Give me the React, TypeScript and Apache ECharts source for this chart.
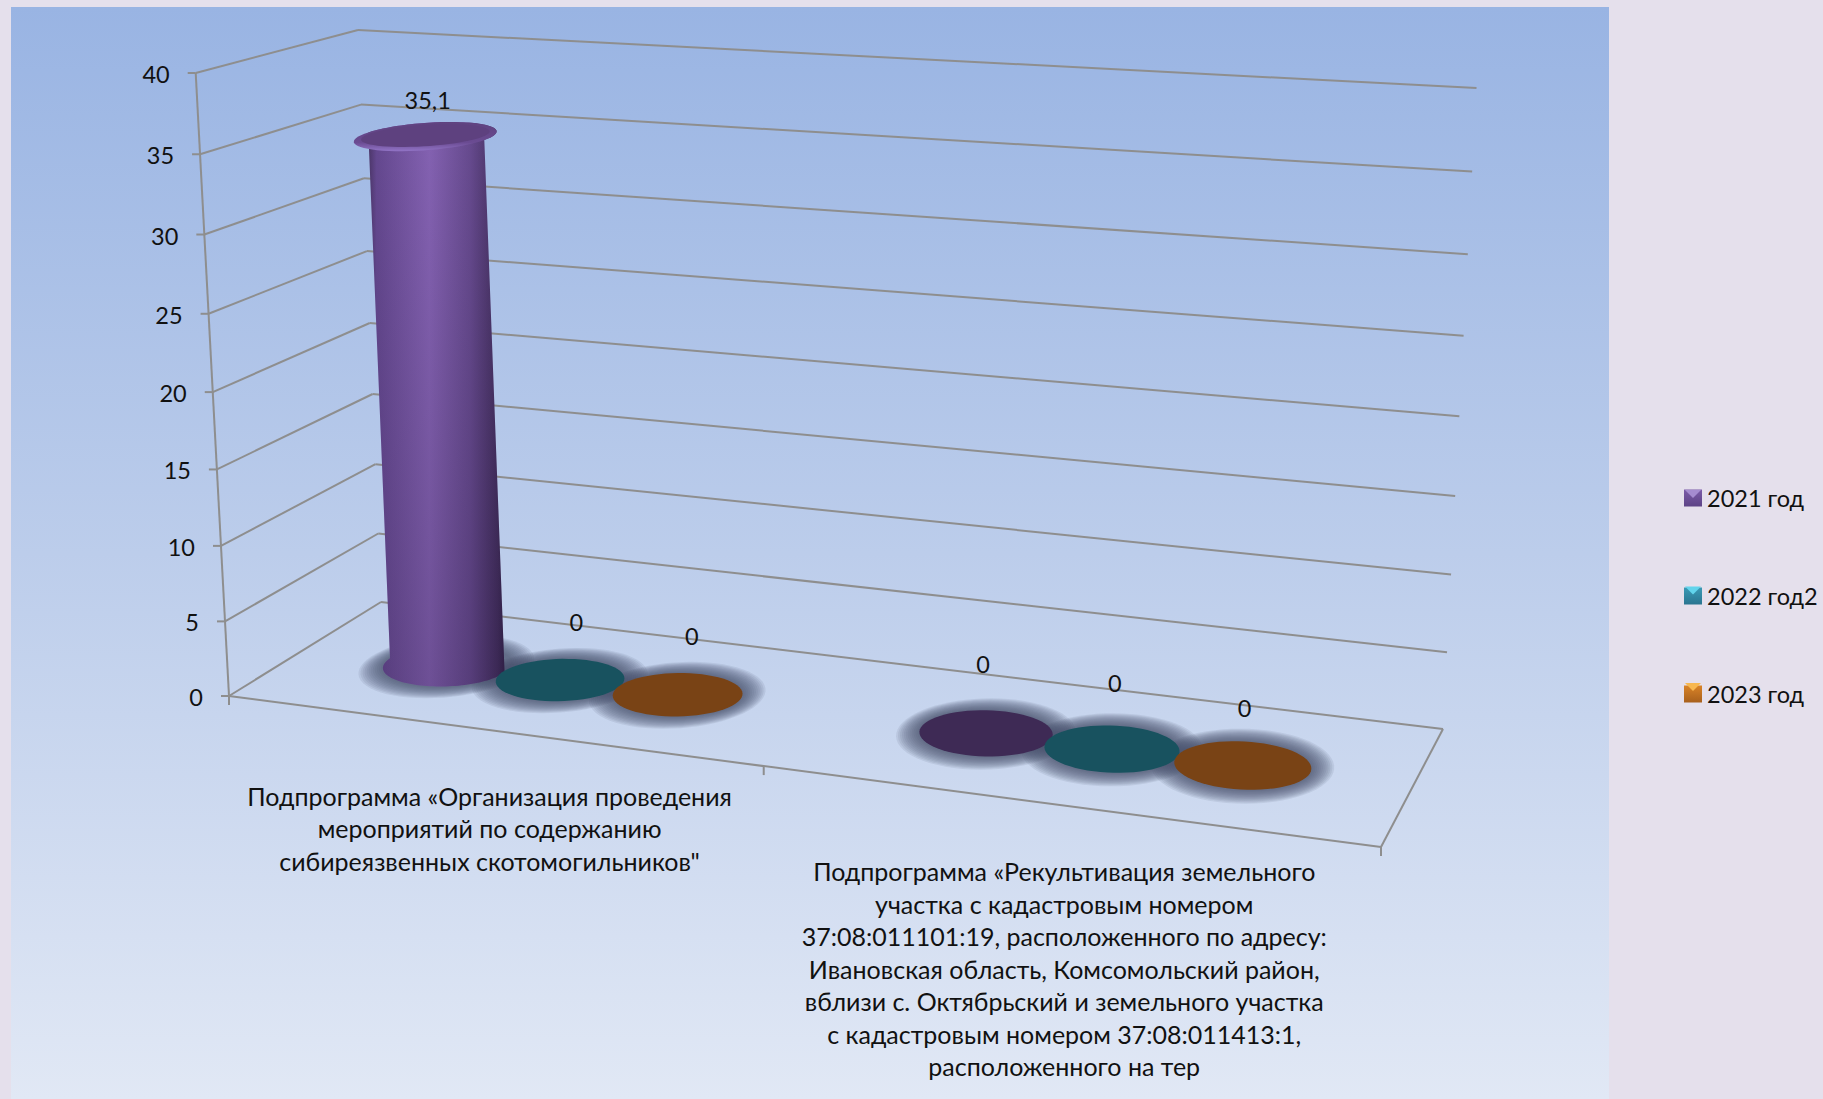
import React, { useEffect, useRef } from "react";
import * as echarts from "echarts";

const categories = [
  "Подпрограмма «Организация проведения\nмероприятий по содержанию\nсибиреязвенных скотомогильников\"",
  "Подпрограмма «Рекультивация земельного\nучастка с кадастровым номером\n37:08:011101:19, расположенного по адресу:\nИвановская область, Комсомольский район,\nвблизи с. Октябрьский и земельного участка\nс кадастровым номером 37:08:011413:1,\nрасположенного на тер",
];
const seriesNames = ["2021 год", "2022 год2", "2023 год"];
const values2021 = [35.1, 0];
const values2022 = [0, 0];
const values2023 = [0, 0];
const yTicks = [0, 5, 10, 15, 20, 25, 30, 35, 40];

const W = 1823;
const H = 1099;
const FONT = "Lato, 'Open Sans', 'Noto Sans', sans-serif";
const TICK_FS = 23.5;
const CAT_FS = 25;
const LINE = "#8e8e8e";

type P = [number, number];
function homography(p0: P, p1: P, p2: P, p3: P) {
  const dx1 = p1[0] - p2[0], dy1 = p1[1] - p2[1];
  const dx2 = p3[0] - p2[0], dy2 = p3[1] - p2[1];
  const sx = p0[0] - p1[0] + p2[0] - p3[0], sy = p0[1] - p1[1] + p2[1] - p3[1];
  const den = dx1 * dy2 - dx2 * dy1;
  const g = (sx * dy2 - dx2 * sy) / den;
  const h = (dx1 * sy - sx * dy1) / den;
  const a = p1[0] - p0[0] + g * p1[0], b = p3[0] - p0[0] + h * p3[0], c = p0[0];
  const d = p1[1] - p0[1] + g * p1[1], e = p3[1] - p0[1] + h * p3[1], f = p0[1];
  return (u: number, w: number): P => {
    const k = g * u + h * w + 1;
    return [(a * u + b * w + c) / k, (d * u + e * w + f) / k];
  };
}
const floorPlane = homography([229, 696], [1381, 847], [1443, 729], [381, 602]);
const topPlane = homography([195.7, 73], [1414, 149], [1476.5, 88], [358, 30]);
const heightT = (s: number) => s / (1.05 - 0.05 * s);
function project(u: number, w: number, s: number): P {
  const a = floorPlane(u, w), b = topPlane(u, w), t = heightT(s);
  return [a[0] + (b[0] - a[0]) * t, a[1] + (b[1] - a[1]) * t];
}
const pts = (list: P[]) => list.map((p) => [p[0], p[1]]);
const lineEl = (a: P, b: P, width = 2) => ({
  type: "line",
  shape: { x1: a[0], y1: a[1], x2: b[0], y2: b[1] },
  style: { stroke: LINE, lineWidth: width },
});

const SERIES_OFFSET = [-0.111, -0.0015, 0.1095];
const DEPTH = 0.49;
const RU = 0.056;
const RW = 0.2;
const LEAN = 8.5;
function columnPoint(u: number, s: number): P {
  const p = project(u, DEPTH, s);
  return [p[0] + LEAN * heightT(s), p[1]];
}
function ring(u: number, s: number, from = 0, to = Math.PI * 2, growU = 0, growW = 0, n = 64): P[] {
  const out: P[] = [];
  const ru = RU * (1 + 0.04 * s) + growU;
  const rw = RW * (1 + 0.42 * s) + growW;
  for (let i = 0; i <= n; i++) {
    const th = from + ((to - from) * i) / n;
    const p = project(u + ru * Math.cos(th), DEPTH + rw * Math.sin(th), s);
    out.push([p[0] + LEAN * heightT(s), p[1]]);
  }
  return out;
}
const flatFill = ["#3e2a55", "#18525f", "#794315"];
const legendColors = [
  ["#7b5ca8", "#5d4386"],
  ["#3a9ab5", "#2a7590"],
  ["#d98327", "#a8601c"],
];
const legendTop = ["#a58cd0", "#62d4ec", "#f8b850"];
const labelNudge = [
  [[2, -36], [-3, -69]],
  [[16, -58], [3, -66]],
  [[14, -58], [2, -57]],
];
const SHADOW_STEPS = [1, 2, 3, 4, 5, 6, 7, 8, 9, 10, 11, 12];

const dataOf = (vals: number[]) => vals.map((v, i) => [i, v]);
const allValues = [values2021, values2022, values2023];

const uOf = (api: any, cat: number, si: number) =>
  api.coord([cat, 0])[0] / W + SERIES_OFFSET[si];
const sOf = (api: any, cat: number, v: number) => 1 - api.coord([cat, v])[1] / H;

function markSeries(si: number) {
  return {
    type: "custom",
    name: seriesNames[si],
    coordinateSystem: "cartesian2d",
    clip: false,
    silent: true,
    z: 5 + si,
    itemStyle: {
      color: new echarts.graphic.LinearGradient(0, 0, 0, 1, [
        { offset: 0, color: legendColors[si][0] },
        { offset: 1, color: legendColors[si][1] },
      ]),
    },
    data: dataOf(allValues[si]),
    encode: { x: 0, y: 1 },
    renderItem: (_: any, api: any) => {
      const cat = api.value(0);
      const v = api.value(1);
      const u = uOf(api, cat, si);
      const s = sOf(api, cat, v);
      const children: any[] = [];
      if (v > 0) {
        const side = [...ring(u, 0, Math.PI, Math.PI * 2), ...ring(u, s, 0, Math.PI)];
        children.push({
          type: "polygon",
          shape: { points: pts(side) },
          style: {
            fill: new echarts.graphic.LinearGradient(0, 0, 1, 0, [
              { offset: 0, color: "#4b3668" },
              { offset: 0.06, color: "#64488f" },
              { offset: 0.45, color: "#8462b2" },
              { offset: 0.75, color: "#664a8e" },
              { offset: 0.95, color: "#432f5e" },
              { offset: 1, color: "#35254c" },
            ]),
          },
        });
        children.push({
          type: "polygon",
          shape: { points: pts(side) },
          style: {
            fill: new echarts.graphic.LinearGradient(0, 0, 0, 1, [
              { offset: 0, color: "rgba(30,15,50,0)" },
              { offset: 1, color: "rgba(30,15,50,0.22)" },
            ]),
          },
        });
        children.push({
          type: "polygon",
          shape: { points: pts(ring(u, s)) },
          style: {
            fill: new echarts.graphic.LinearGradient(0, 0, 0, 1, [
              { offset: 0, color: "#5f427f" },
              { offset: 0.7, color: "#6a4b92" },
              { offset: 1, color: "#9274c6" },
            ]),
          },
        });
        const inner = ring(u, s).map((p, _i, arr) => {
          const cx = arr.reduce((m, q) => m + q[0], 0) / arr.length;
          const cy = arr.reduce((m, q) => m + q[1], 0) / arr.length;
          return [cx + (p[0] - cx) * 0.9, cy + (p[1] - cy) * 0.78 - 1] as P;
        });
        children.push({
          type: "polygon",
          shape: { points: pts(inner) },
          style: { fill: "#5e417f" },
        });
      } else {
        children.push({
          type: "polygon",
          shape: { points: pts(ring(u, 0)) },
          style: { fill: flatFill[si] },
        });
      }
      return { type: "group", children };
    },
  };
}

const option: any = {
  animation: false,
  backgroundColor: "#e5e0ec",
  grid: { left: 0, right: 0, top: 0, bottom: 0 },
  xAxis: { type: "category", data: categories, show: false },
  yAxis: { type: "value", min: 0, max: 40, interval: 5, show: false },
  legend: {
    data: seriesNames,
    orient: "vertical",
    left: 1684,
    top: 486,
    padding: 0,
    icon: "rect",
    itemWidth: 18,
    itemHeight: 17,
    itemGap: 74,
    selectedMode: false,
    textStyle: { fontFamily: FONT, fontSize: TICK_FS, color: "#111" },
  },
  graphic: [
    {
      type: "rect",
      z: -10,
      shape: { x: 11, y: 7, width: 1598, height: 1092 },
      style: {
        fill: new echarts.graphic.LinearGradient(0, 0, 0, 1, [
          { offset: 0, color: "#99b4e3" },
          { offset: 0.5, color: "#bccdeb" },
          { offset: 1, color: "#e1e8f5" },
        ]),
      },
    },
    ...legendTop.map((c, i) => ({
      type: "polygon",
      z: 100,
      shape: {
        points: [
          [1685, 490 + i * 96.5],
          [1701, 490 + i * 96.5],
          [1693, 498 + i * 96.5],
        ],
      },
      style: { fill: c },
    })),
  ],
  series: [
    {
      type: "custom",
      name: "walls",
      coordinateSystem: "cartesian2d",
      clip: false,
      silent: true,
      z: 2,
      data: yTicks.map((v) => [0, v]),
      encode: { x: 0, y: 1 },
      renderItem: (_: any, api: any) => {
        const v = api.value(1);
        const s = sOf(api, 0, v);
        const left = project(0, 0, s);
        const back = project(0, 1, s);
        const right = project(1, 1, s);
        const children: any[] = [
          lineEl(left, back),
          lineEl(back, right),
          lineEl([left[0] - 8, left[1]], left),
          {
            type: "text",
            style: {
              text: String(v),
              x: left[0] - 26,
              y: left[1] + 1,
              align: "right",
              verticalAlign: "middle",
              fontFamily: FONT,
              fontSize: TICK_FS,
              fill: "#111",
            },
          },
        ];
        if (v === 0) {
          const fr = project(1, 0, 0);
          children.push(lineEl(left, fr), lineEl(fr, right));
          [0, 0.492, 1].forEach((u) => {
            const p = project(u, 0, 0);
            children.push(lineEl(p, [p[0], p[1] + 9]));
          });
          children.push(lineEl(left, project(0, 0, 1)));
        }
        return { type: "group", children };
      },
    },
    {
      type: "custom",
      name: "shadows",
      coordinateSystem: "cartesian2d",
      clip: false,
      silent: true,
      z: 3,
      data: allValues.flatMap((vals, si) => vals.map((v, i) => [i, v, si])),
      encode: { x: 0, y: 1 },
      renderItem: (_: any, api: any) => {
        const u = uOf(api, api.value(0), api.value(2));
        return {
          type: "group",
          children: SHADOW_STEPS.map((k) => ({
            type: "polygon",
            shape: {
              points: pts(ring(u, 0, 0, Math.PI * 2, (13 - k) * 0.0015, (13 - k) * 0.0095)),
            },
            style: { fill: "rgba(72,84,106,0.11)" },
          })),
        };
      },
    },
    markSeries(0),
    markSeries(1),
    markSeries(2),
    {
      type: "custom",
      name: "labels",
      coordinateSystem: "cartesian2d",
      clip: false,
      silent: true,
      z: 20,
      data: allValues.flatMap((vals, si) => vals.map((v, i) => [i, v, si])),
      encode: { x: 0, y: 1 },
      renderItem: (_: any, api: any) => {
        const cat = api.value(0), v = api.value(1), si = api.value(2);
        const p = columnPoint(uOf(api, cat, si), sOf(api, cat, v));
        const n = labelNudge[si][cat];
        return {
          type: "text",
          style: {
            text: String(v).replace(".", ","),
            x: p[0] + n[0],
            y: p[1] + n[1],
            align: "center",
            verticalAlign: "middle",
            fontFamily: FONT,
            fontSize: TICK_FS,
            fill: "#111",
          },
        };
      },
    },
    {
      type: "custom",
      name: "categoryLabels",
      coordinateSystem: "cartesian2d",
      clip: false,
      silent: true,
      z: 20,
      data: categories.map((_, i) => [i, 0]),
      encode: { x: 0, y: 1 },
      renderItem: (_: any, api: any) => {
        const cat = api.value(0);
        const p = project(api.coord([cat, 0])[0] / W, 0, 0);
        return {
          type: "text",
          style: {
            text: categories[cat],
            x: p[0] - 4,
            y: p[1] + 49,
            align: "center",
            verticalAlign: "top",
            lineHeight: 32.5,
            fontFamily: FONT,
            fontSize: CAT_FS,
            fill: "#111",
          },
        };
      },
    },
  ],
};

export default function App() {
  const ref = useRef<HTMLDivElement>(null);
  useEffect(() => {
    document.body.style.margin = "0";
    document.body.style.background = "#e5e0ec";
    const chart = echarts.init(ref.current!, null, { renderer: "svg" });
    chart.setOption(option);
    return () => chart.dispose();
  }, []);
  return <div ref={ref} style={{ width: W, height: H }} />;
}
